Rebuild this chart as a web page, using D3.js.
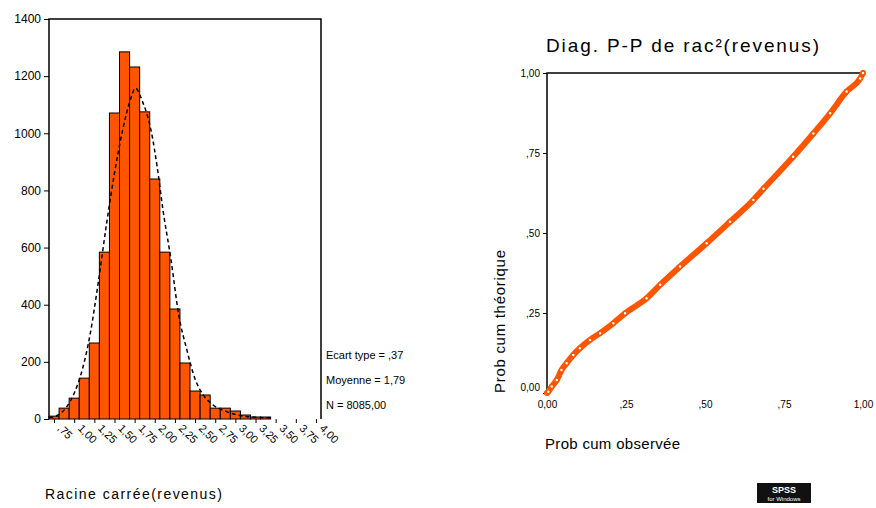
<!DOCTYPE html>
<html>
<head>
<meta charset="utf-8">
<script src="https://cdn.jsdelivr.net/npm/d3@7"></script>
<style>
  body { margin: 0; background: #fff; }
  text { font-family: "Liberation Sans", Arial, sans-serif; fill: #000; }
</style>
</head>
<body>
<div id="chart"></div>
<script>
// histogram : racine carree(revenus)
var binMids = [0.75, 0.875, 1.0, 1.125, 1.25, 1.375, 1.5, 1.625, 1.75, 1.875, 2.0, 2.125,
               2.25, 2.375, 2.5, 2.625, 2.75, 2.875, 3.0, 3.125, 3.25, 3.375];
var counts = [10, 38, 73, 143, 266, 584, 1071, 1285, 1232, 1075, 840, 584,
              385, 196, 98, 84, 38, 38, 28, 14, 7, 7];
var histXTicks = [0.75, 1.0, 1.25, 1.5, 1.75, 2.0, 2.25, 2.5, 2.75, 3.0, 3.25, 3.5, 3.75, 4.0];
var histYTicks = [0, 200, 400, 600, 800, 1000, 1200, 1400];

// normal curve
var normX = [0.69, 0.80, 0.90, 1.00, 1.10, 1.20, 1.30, 1.40, 1.50, 1.60, 1.70, 1.76, 1.84,
             1.96, 2.03, 2.10, 2.20, 2.30, 2.40, 2.50, 2.60, 2.72, 2.90, 3.10, 3.43];
var normY = [4, 14, 40, 90, 172, 300, 480, 680, 860, 1010, 1120, 1158, 1116,
             1001, 882, 735, 560, 360, 240, 140, 85, 50, 25, 10, 4];

var statLines = ["Ecart type = ,37", "Moyenne = 1,79", "N = 8085,00"];

// P-P plot
var ppObs  = [0, .004, .015, .031, .046, .062, .083, .104, .136, .168, .210, .247, .315,
              .358, .421, .505, .579, .653, .685, .779, .843, .896, .948, .991, 1];
var ppTheo = [0, .004, .020, .041, .072, .093, .119, .140, .166, .187, .218, .249, .296,
              .338, .395, .468, .535, .603, .638, .738, .811, .874, .942, .983, 1];
var ppTicks = [0, .25, .5, .75, 1];

var orange = "#ff5500";

// SPSS style number : ,25  1,00  0,00
function frNum(v) {
  if (v === 0) return "0,00";
  var s = v.toFixed(2).replace(".", ",");
  return s.replace(/^0,/, ",");
}

var svg = d3.select("#chart").append("svg")
    .attr("width", 876)
    .attr("height", 508);

// ---------- histogram ----------
var x = d3.scaleLinear().domain([0.6875, 4.0625]).range([49, 321]);
var y = d3.scaleLinear().domain([0, 1400]).range([419, 19]);

var hist = svg.append("g");

hist.selectAll(".bar")
    .data(binMids)
    .enter()
    .append("rect")
    .attr("class", "bar")
    .attr("x", function(d) { return x(d - 0.0625); })
    .attr("width", function(d) { return x(d + 0.0625) - x(d - 0.0625); })
    .attr("y", function(d, i) { return y(counts[i]); })
    .attr("height", function(d, i) { return y(0) - y(counts[i]); })
    .style("fill", orange)
    .style("stroke", "#000")
    .style("stroke-width", 1);

// normal curve
var normLine = d3.line()
    .x(function(d, i) { return x(normX[i]); })
    .y(function(d) { return y(d); })
    .curve(d3.curveMonotoneX);

hist.append("path")
    .attr("d", normLine(normY))
    .style("fill", "none")
    .style("stroke", "#000")
    .style("stroke-width", 1.5)
    .style("stroke-dasharray", "4,3");

// frame : left, top, right
hist.append("path")
    .attr("d", "M" + x.range()[0] + "," + y(0) + "V" + y(1400) + "H" + x.range()[1] + "V" + y(0))
    .style("fill", "none")
    .style("stroke", "#000")
    .style("stroke-width", 1.5);

// y axis
var yAxis = d3.axisLeft(y).tickValues(histYTicks).tickSize(5).tickPadding(3).tickFormat(d3.format("d"));
var gy = hist.append("g")
    .attr("transform", "translate(" + x.range()[0] + ",0)")
    .call(yAxis);
gy.select(".domain").remove();
gy.selectAll("text").style("font-size", "12px").style("font-family", "Liberation Sans, Arial, sans-serif");

// x axis
var xAxis = d3.axisBottom(x).tickValues(histXTicks).tickSize(4).tickFormat("");
var gx = hist.append("g")
    .attr("transform", "translate(0," + y(0) + ")")
    .call(xAxis);
gx.select(".domain").remove();

hist.selectAll(".xlab")
    .data(histXTicks)
    .enter()
    .append("text")
    .attr("class", "xlab")
    .attr("transform", function(d) { return "translate(" + (x(d) + 3) + ",429) rotate(45)"; })
    .style("font-size", "11px")
    .text(frNum);

hist.selectAll(".stat")
    .data(statLines)
    .enter()
    .append("text")
    .attr("class", "stat")
    .attr("x", 326)
    .attr("y", function(d, i) { return 359 + i * 25; })
    .style("font-size", "11px")
    .text(function(d) { return d; });

hist.append("text")
    .attr("x", 45)
    .attr("y", 499)
    .style("font-size", "14px")
    .attr("textLength", 177)
    .attr("lengthAdjust", "spacing")
    .text("Racine carrée(revenus)");

// ---------- P-P plot ----------
var px = d3.scaleLinear().domain([0, 1]).range([547, 863]);
var py = d3.scaleLinear().domain([0, 1]).range([393, 73]);

var pp = svg.append("g");

pp.append("text")
    .attr("x", 546)
    .attr("y", 52)
    .style("font-size", "19px")
    .attr("textLength", 273)
    .attr("lengthAdjust", "spacing")
    .text("Diag. P-P de rac²(revenus)");

pp.append("path")
    .attr("d", "M" + px(0) + "," + py(0) + "V" + py(1) + "H" + px(1))
    .style("fill", "none")
    .style("stroke", "#000")
    .style("stroke-width", 1.5);

var gpy = pp.append("g")
    .attr("transform", "translate(" + px(0) + ",0)")
    .call(d3.axisLeft(py).tickValues(ppTicks).tickSize(4).tickPadding(3).tickFormat(frNum));
gpy.select(".domain").remove();
gpy.selectAll("text").style("font-size", "10px").style("font-family", "Liberation Sans, Arial, sans-serif");
gpy.selectAll(".tick").filter(function(d) { return d === 0; }).select("text").attr("dy", "-0.3em");

var gpx = pp.append("g")
    .attr("transform", "translate(0," + py(0) + ")")
    .call(d3.axisBottom(px).tickValues(ppTicks).tickSize(0).tickPadding(8).tickFormat(frNum));
gpx.select(".domain").remove();
gpx.selectAll("text").style("font-size", "10px").style("font-family", "Liberation Sans, Arial, sans-serif");

var ppLine = d3.line()
    .x(function(d, i) { return px(ppObs[i]); })
    .y(function(d) { return py(d); })
    .curve(d3.curveMonotoneX);

pp.append("path")
    .attr("d", ppLine(ppTheo))
    .style("fill", "none")
    .style("stroke", orange)
    .style("stroke-width", 6)
    .style("stroke-linecap", "round");

pp.selectAll(".pt")
    .data(ppTheo)
    .enter()
    .append("circle")
    .attr("class", "pt")
    .attr("cx", function(d, i) { return px(ppObs[i]); })
    .attr("cy", function(d) { return py(d); })
    .attr("r", 2)
    .style("fill", "#fff")
    .style("stroke", orange)
    .style("stroke-width", 1.5);

pp.append("text")
    .attr("transform", "translate(505,393) rotate(-90)")
    .style("font-size", "15px")
    .attr("textLength", 143)
    .attr("lengthAdjust", "spacing")
    .text("Prob cum théorique");

pp.append("text")
    .attr("x", 545)
    .attr("y", 449)
    .style("font-size", "15px")
    .attr("textLength", 135)
    .attr("lengthAdjust", "spacing")
    .text("Prob cum observée");

// small logo bottom right
var logo = svg.append("g").attr("transform", "translate(757,483)");
logo.append("rect").attr("width", 54).attr("height", 20).style("fill", "#111");
logo.append("text").attr("x", 27).attr("y", 10).attr("text-anchor", "middle")
    .style("fill", "#fff").style("font-size", "9px").style("font-weight", "bold").text("SPSS");
logo.append("text").attr("x", 27).attr("y", 18).attr("text-anchor", "middle")
    .style("fill", "#fff").style("font-size", "6px").text("for Windows");
</script>
</body>
</html>
